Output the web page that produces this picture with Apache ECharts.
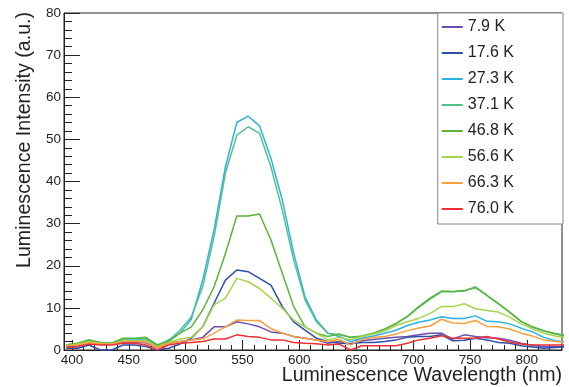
<!DOCTYPE html>
<html>
<head>
<meta charset="utf-8">
<script src="https://cdn.jsdelivr.net/npm/echarts@6/dist/echarts.min.js"></script>
<style>
  html, body { margin: 0; padding: 0; background: #fff; }
  #chart { width: 569px; height: 387px; }
</style>
</head>
<body>
<div id="chart"></div>
<script>
// wavelengths (nm) of the measured points
const wavelengths = [395, 405, 415, 425, 435, 445, 455, 465, 475, 485, 495, 505, 515, 525, 535,
  545, 555, 565, 575, 585, 595, 605, 615, 625, 635, 645, 655, 665, 675, 685, 695, 705, 715, 725,
  735, 745, 755, 765, 775, 785, 795, 805, 815, 825, 835];

const names = ["7.9 K", "17.6 K", "27.3 K", "37.1 K", "46.8 K", "56.6 K", "66.3 K", "76.0 K"];
const colors = ["#6a4fb0", "#2c4fa8", "#2bb1e6", "#52c28a", "#5bb53a", "#a6d44a", "#f9a03c", "#ee2f33"];

const k7_9 = [0.8, 1.0, 2.0, 1.4, 1.3, 1.8, 1.8, 1.7, 0.5, 1.6, 2.0, 2.4, 3.0, 5.5, 5.5,
  6.7, 6.2, 5.5, 4.3, 4.0, 3.2, 2.8, 2.4, 1.6, 2.0, 1.5, 2.2, 2.5, 2.8, 3.0, 3.2, 3.6, 4.0, 4.0,
  2.6, 3.6, 3.2, 2.9, 2.8, 2.3, 1.6, 1.1, 0.8, 0.8, 0.8];
const k17_6 = [0.4, 0.4, 1.2, 0.0, 0.0, 1.2, 1.2, 0.8, 0.0, 0.4, 1.4, 2.8, 5.5, 11.1, 16.6,
  19.0, 18.6, 17.0, 15.4, 10.3, 6.7, 4.7, 2.8, 2.0, 1.6, 1.5, 1.8, 1.8, 2.0, 2.4, 3.0, 3.2, 3.2, 3.6,
  2.2, 2.3, 2.8, 2.4, 1.8, 1.6, 1.0, 0.7, 0.4, 0.6, 0.8];
const k27_3 = [1.0, 1.4, 2.2, 1.6, 1.5, 2.4, 2.4, 2.5, 1.0, 2.4, 4.0, 7.3, 16.6, 28.5, 43.5,
  54.0, 55.5, 53.2, 45.5, 35.6, 23.0, 12.6, 7.1, 4.0, 3.2, 2.0, 2.8, 3.3, 4.0, 4.7, 5.8, 6.6, 7.1, 7.9,
  7.5, 7.5, 8.1, 6.8, 6.7, 6.2, 5.2, 4.3, 3.0, 2.2, 1.9];
const k37_1 = [1.2, 1.6, 2.4, 1.8, 1.6, 2.7, 2.7, 2.9, 1.2, 2.2, 4.7, 7.9, 15.0, 26.9, 42.0,
  51.0, 53.0, 51.4, 43.5, 33.2, 21.4, 11.9, 6.7, 4.0, 3.6, 3.0, 3.2, 3.9, 4.9, 6.2, 7.9, 10.1, 12.1, 13.8,
  13.8, 14.0, 15.0, 12.9, 11.0, 8.9, 6.8, 5.4, 4.5, 3.8, 3.3];
const k46_8 = [1.2, 1.6, 2.4, 1.8, 1.6, 2.8, 2.8, 3.0, 1.2, 2.0, 4.0, 5.5, 9.5, 15.0, 22.9,
  31.8, 31.8, 32.3, 26.1, 18.2, 10.3, 5.5, 4.0, 3.2, 3.8, 3.0, 3.3, 4.0, 5.0, 6.3, 8.0, 10.3, 12.3, 14.0,
  13.9, 14.1, 14.8, 13.0, 11.0, 9.0, 6.8, 5.5, 4.6, 3.9, 3.4];
const k56_6 = [1.0, 1.4, 2.0, 1.6, 1.4, 2.2, 2.2, 2.3, 0.8, 1.8, 2.6, 3.0, 5.5, 10.7, 12.3,
  17.0, 16.2, 14.6, 12.3, 9.9, 7.1, 5.5, 4.0, 2.4, 3.0, 2.4, 3.2, 3.8, 4.5, 5.8, 6.7, 7.5, 8.7, 10.3,
  10.3, 11.0, 9.8, 9.4, 9.0, 7.8, 6.2, 5.0, 4.0, 3.3, 2.9];
const k66_3 = [1.0, 1.2, 1.8, 1.5, 1.4, 2.0, 2.0, 1.9, 0.6, 1.6, 2.0, 2.4, 2.6, 4.0, 5.5,
  7.1, 7.0, 7.0, 5.1, 4.0, 3.2, 2.8, 2.4, 2.0, 2.5, 1.2, 2.5, 3.0, 3.2, 3.8, 4.6, 5.2, 5.7, 7.3,
  6.4, 6.3, 7.0, 5.6, 5.5, 5.0, 4.0, 3.3, 2.4, 2.0, 1.9];
const k76_0 = [0.6, 0.8, 1.4, 1.2, 1.2, 1.6, 1.6, 1.2, 0.0, 1.2, 1.6, 1.8, 2.0, 2.6, 2.6,
  3.6, 3.2, 3.0, 2.4, 2.4, 1.8, 1.6, 1.5, 1.2, 1.4, 0.0, 1.0, 1.0, 1.0, 1.0, 1.6, 2.4, 2.8, 3.4,
  2.8, 2.8, 2.8, 3.2, 2.6, 1.9, 1.4, 1.2, 1.2, 1.2, 1.2];

const xTicks = [400, 450, 500, 550, 600, 650, 700, 750, 800];
const xMinorTicks = [400, 410, 420, 430, 440, 450, 460, 470, 480, 490, 500, 510, 520, 530, 540,
  550, 560, 570, 580, 590, 600, 610, 620, 630, 640, 650, 660, 670, 680, 690, 700, 710, 720, 730,
  740, 750, 760, 770, 780, 790, 800, 810, 820, 830];
const yTicks = [0, 10, 20, 30, 40, 50, 60, 70, 80];

const allSeries = [k7_9, k17_6, k27_3, k37_1, k46_8, k56_6, k66_3, k76_0];

const FONT = "Liberation Sans, Arial, Helvetica, sans-serif";
const INK = "#222";

const chart = echarts.init(document.getElementById("chart"));

const option = {
  animation: false,
  textStyle: { fontFamily: FONT },
  grid: {
    left: 64, top: 13, right: 7, bottom: 37,
    show: true, borderColor: INK, borderWidth: 1, backgroundColor: "transparent"
  },
  legend: {
    orient: "vertical",
    right: 6,
    top: 13,
    padding: [6, 49, 7, 4],
    itemGap: 10,
    itemWidth: 21,
    itemHeight: 2,
    icon: "rect",
    selectedMode: false,
    backgroundColor: "#fff",
    borderColor: "#888",
    borderWidth: 1,
    textStyle: { fontSize: 16, lineHeight: 16, color: INK, fontFamily: FONT },
    data: names
  },
  xAxis: [
    {
      type: "value",
      min: 393,
      max: 831,
      splitLine: { show: false },
      axisLine: { show: true, lineStyle: { color: INK, width: 1 } },
      axisTick: { show: true, inside: true, length: 10, customValues: xTicks, lineStyle: { color: INK } },
      axisLabel: { customValues: xTicks, color: INK, fontSize: 13.5, margin: 3, fontFamily: FONT }
    },
    {
      type: "value",
      min: 393,
      max: 831,
      position: "bottom",
      splitLine: { show: false },
      axisLine: { show: false },
      axisTick: { show: true, inside: true, length: 5, customValues: xMinorTicks, lineStyle: { color: INK } },
      axisLabel: { show: false }
    }
  ],
  yAxis: {
    type: "value",
    min: 0,
    max: 80,
    interval: 10,
    splitLine: { show: false },
    axisLine: { show: true, lineStyle: { color: INK, width: 1 } },
    axisTick: { show: true, inside: true, length: 16, lineStyle: { color: INK } },
    minorTick: { show: true, splitNumber: 5, length: 8, lineStyle: { color: INK } },
    axisLabel: { color: INK, fontSize: 13.5, margin: 3, fontFamily: FONT,
      customValues: yTicks }
  },
  graphic: [
    {
      type: "text",
      x: 562, y: 376,
      style: { text: "Luminescence Wavelength (nm)", align: "right", verticalAlign: "middle",
        font: "19.6px " + FONT, fill: INK }
    },
    {
      type: "text",
      x: 25, y: 12,
      rotation: Math.PI / 2,
      style: { text: "Luminescence Intensity (a.u.)", align: "right", verticalAlign: "middle",
        font: "19.6px " + FONT, fill: INK }
    }
  ],
  series: allSeries.map((vals, i) => ({
    name: names[i],
    type: "line",
    xAxisIndex: 0,
    showSymbol: false,
    symbol: "none",
    color: colors[i],
    lineStyle: { width: 1.5, color: colors[i] },
    data: wavelengths.map((w, j) => [w, vals[j]])
  }))
};

chart.setOption(option);
</script>
</body>
</html>
